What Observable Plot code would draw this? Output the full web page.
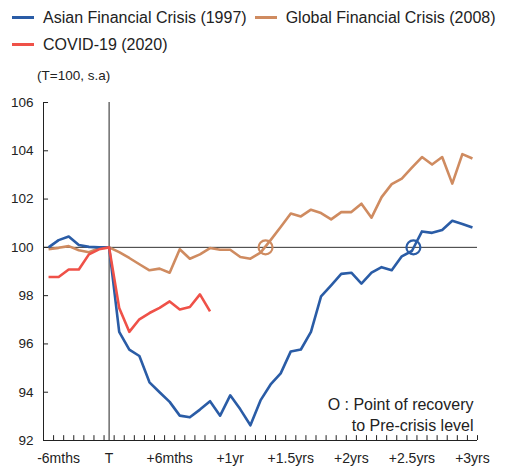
<!DOCTYPE html>
<html>
<head>
<meta charset="utf-8">
<script src="https://cdn.jsdelivr.net/npm/d3@7"></script>
<script src="https://cdn.jsdelivr.net/npm/@observablehq/plot@0.6"></script>
<style>
  html, body { margin: 0; padding: 0; background: #fff; }
  body { width: 507px; height: 471px; overflow: hidden; font-family: "Liberation Sans", Arial, sans-serif; color: #222; }
  #legend { display: flex; flex-wrap: wrap; padding: 4px 0 0 12px; width: 495px; height: 54px; box-sizing: content-box; }
  .item { display: inline-flex; align-items: center; height: 27px; margin-right: 8px; font-size: 16px; white-space: nowrap; }
  .sw { width: 22px; height: 3px; margin-right: 9px; }
  #unit { height: 19px; padding: 8px 0 0 37px; line-height: 19px; font-size: 13.5px; }
</style>
</head>
<body>
<div id="legend"></div>
<div id="unit">(T=100, s.a)</div>
<div id="chart"></div>
<script>
// months relative to crisis onset T
const months = d3.range(-6, 37);

const seriesNames = ["Asian Financial Crisis (1997)", "Global Financial Crisis (2008)", "COVID-19 (2020)"];
const seriesColors = ["#2a5ca6", "#cf8b60", "#ef5148"];

const asian = [100.0, 100.3, 100.45, 100.1, 100.02, 100.0, 100.0,
  96.5, 95.76, 95.5, 94.41, 94.0, 93.6, 93.03, 92.96, 93.28, 93.63, 93.03, 93.87,
  93.29, 92.63, 93.66, 94.32, 94.78, 95.69, 95.77, 96.5, 97.97, 98.43, 98.9, 98.95,
  98.5, 98.95, 99.18, 99.05, 99.63, 99.85, 100.66, 100.6, 100.72, 101.1, 100.97, 100.82];

const gfc = [99.92, 99.98, 100.05, 99.88, 99.8, 99.96, 100.0,
  99.8, 99.56, 99.3, 99.05, 99.12, 98.95, 99.92, 99.53, 99.71, 99.97, 99.9, 99.9,
  99.6, 99.53, 99.78, 100.3, 100.84, 101.4, 101.28, 101.56, 101.42, 101.16, 101.46, 101.46,
  101.81, 101.23, 102.08, 102.62, 102.85, 103.3, 103.74, 103.43, 103.74, 102.64, 103.86, 103.68];

const covid = [98.77, 98.77, 99.08, 99.08, 99.71, 99.92, 100.0,
  97.49, 96.5, 97.02, 97.28, 97.49, 97.76, 97.43, 97.53, 98.05, 97.35];

// recovery-to-pre-crisis points (month, level, series index)
const recoveryMonths = [15.5, 30.15];
const recoveryLevels = [100, 100];
const recoverySeries = [1, 0];

const xTickValues = [-6, 0, 6, 12, 18, 24, 30, 36];
const xTickLabels = ["-6mths", "T", "+6mths", "+1yr", "+1.5yrs", "+2yrs", "+2.5yrs", "+3yrs"];
const yTicks = [92, 94, 96, 98, 100, 102, 104, 106];
const noteText = "O : Point of recovery\nto Pre-crisis level";

// legend
const legend = document.getElementById("legend");
seriesNames.forEach((name, i) => {
  const it = document.createElement("span");
  it.className = "item";
  const sw = document.createElement("span");
  sw.className = "sw";
  sw.style.background = seriesColors[i];
  it.appendChild(sw);
  it.appendChild(document.createTextNode(name));
  legend.appendChild(it);
});

// table
const seriesData = [asian, gfc, covid];
const drawOrder = [1, 0, 2];
const rows = drawOrder.flatMap(si => seriesData[si].map((v, j) => ({month: months[j], value: v, series: seriesNames[si]})));
const recovery = recoveryMonths.map((m, i) => ({month: m, value: recoveryLevels[i], series: seriesNames[recoverySeries[i]]}));
const minorTicks = d3.range(-6.5, 37, 1);
const labelOf = new Map(xTickValues.map((v, i) => [v, xTickLabels[i]]));

const xMin = -6.5, xMax = 36.5, yMin = 92, yMax = 106;

const chart = Plot.plot({
  width: 507,
  height: 386,
  marginLeft: 43,
  marginRight: 30,
  marginTop: 17,
  marginBottom: 31,
  style: {fontFamily: "'Liberation Sans', Arial, sans-serif", color: "#222", background: "#fff"},
  x: {domain: [xMin, xMax]},
  y: {domain: [yMin, yMax]},
  color: {domain: seriesNames, range: seriesColors},
  marks: [
    Plot.ruleY([100], {stroke: "#333", strokeWidth: 1}),
    Plot.ruleX([0], {stroke: "#222", strokeWidth: 1}),
    Plot.ruleX([xMin], {stroke: "#222", strokeWidth: 1}),
    Plot.ruleY([yMin], {stroke: "#222", strokeWidth: 1}),
    Plot.ruleX(minorTicks, {x: d => d, y1: yMin, y2: yMin + 0.2, stroke: "#222"}),
    Plot.ruleY(yTicks, {y: d => d, x1: xMin, x2: xMin + 0.5, stroke: "#222"}),
    Plot.axisY({ticks: yTicks, tickSize: 0, tickPadding: 10, fontSize: 13.5, label: null}),
    Plot.axisX({ticks: xTickValues.slice(1), tickSize: 0, tickPadding: 13, fontSize: 14, label: null, tickFormat: d => labelOf.get(d)}),
    Plot.axisX({ticks: xTickValues.slice(0, 1), tickSize: 0, tickPadding: 13, fontSize: 14, label: null, dx: 10, tickFormat: d => labelOf.get(d)}),
    Plot.line(rows, {x: "month", y: "value", z: "series", stroke: "series", strokeWidth: 2.6, strokeLinejoin: "round", strokeLinecap: "butt"}),
    Plot.dot(recovery, {x: "month", y: "value", stroke: "series", r: 7, strokeWidth: 2.2, fill: "none"}),
    Plot.text([noteText], {frameAnchor: "bottom-right", textAnchor: "end", lineAnchor: "bottom", dx: -4, dy: -10, fontSize: 16, lineHeight: 1.3, fill: "#222"})
  ]
});
document.getElementById("chart").appendChild(chart);
</script>
</body>
</html>
